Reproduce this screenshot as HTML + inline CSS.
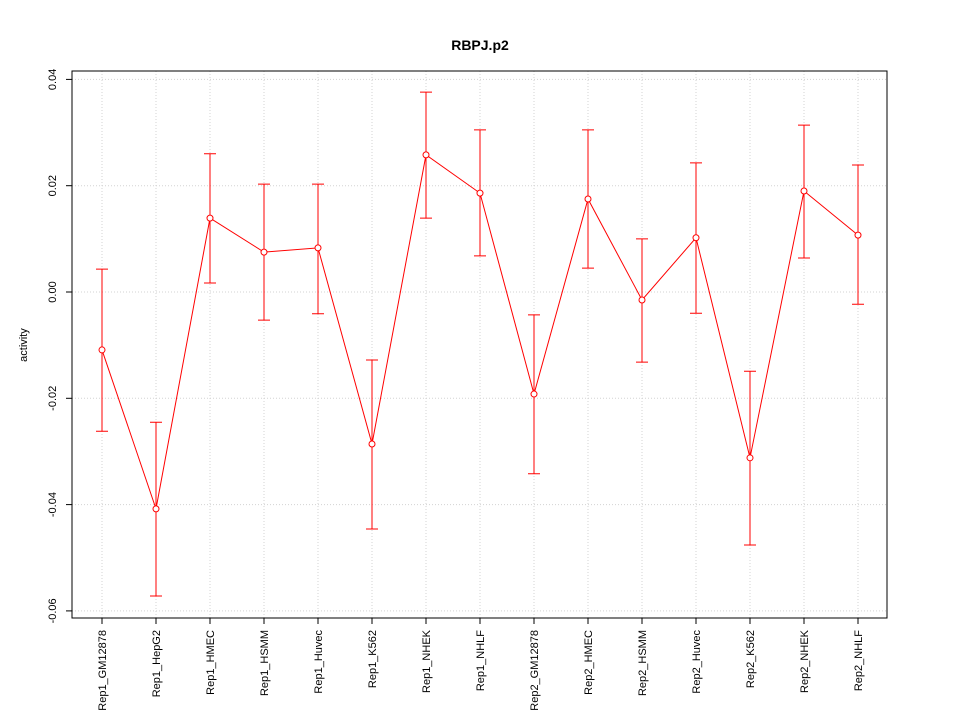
<!DOCTYPE html>
<html><head><meta charset="utf-8"><style>
body{margin:0;background:#fff;}
svg{display:block;font-family:"Liberation Sans",sans-serif;}
</style></head><body>
<svg id="chart" width="960" height="720">
<text x="480" y="50" text-anchor="middle" font-size="14" font-weight="bold">RBPJ.p2</text>
<text transform="translate(27,345) rotate(-90)" text-anchor="middle" font-size="11">activity</text>
<g id="grid"></g>
<g id="yaxis"></g>
<g id="xaxis"></g>
<g id="series"></g>
<rect x="72" y="71" width="815" height="547" fill="none" stroke="#000"/>
</svg>
<script>
const categories=["Rep1_GM12878","Rep1_HepG2","Rep1_HMEC","Rep1_HSMM","Rep1_Huvec","Rep1_K562","Rep1_NHEK","Rep1_NHLF","Rep2_GM12878","Rep2_HMEC","Rep2_HSMM","Rep2_Huvec","Rep2_K562","Rep2_NHEK","Rep2_NHLF"];
const values=[-0.0109,-0.0408,0.0139,0.0075,0.0083,-0.0286,0.0258,0.0186,-0.0192,0.0175,-0.0015,0.0102,-0.0312,0.0190,0.0107];
const upper=[0.0043,-0.0245,0.0260,0.0203,0.0203,-0.0128,0.0376,0.0305,-0.0043,0.0305,0.0100,0.0243,-0.0149,0.0314,0.0239];
const lower=[-0.0262,-0.0572,0.0017,-0.0053,-0.0041,-0.0446,0.0139,0.0068,-0.0342,0.0045,-0.0132,-0.0040,-0.0476,0.0064,-0.0023];
const yTicks=[-0.06,-0.04,-0.02,0.00,0.02,0.04];
const yTickLabels=["-0.06","-0.04","-0.02","0.00","0.02","0.04"];

const NS="http://www.w3.org/2000/svg";
const y=v=>292-v*(106.3/0.02);
const x=i=>102+i*54;
function mk(tag,attrs,parent){const e=document.createElementNS(NS,tag);for(const k in attrs)e.setAttribute(k,attrs[k]);parent.appendChild(e);return e;}
const grid=document.getElementById('grid'),ya=document.getElementById('yaxis'),xa=document.getElementById('xaxis'),ser=document.getElementById('series');
yTicks.forEach((t,i)=>{
  const g=mk('line',{x1:72,x2:887,y1:y(t),y2:y(t),stroke:'#d3d3d3','stroke-dasharray':'1,2'},grid);
  
  
  const tk=mk('line',{x1:66,x2:72,y1:y(t),y2:y(t),stroke:'#000'},ya);
  
  
  const tx=mk('text',{transform:`translate(56,${y(t)}) rotate(-90)`,'text-anchor':'middle','font-size':'11'},ya);
  tx.textContent=yTickLabels[i];
  
  
});
categories.forEach((c,i)=>{
  const g=mk('line',{x1:x(i),x2:x(i),y1:71,y2:618,stroke:'#d3d3d3','stroke-dasharray':'1,2'},grid);
  
  
  const tk=mk('line',{x1:x(i),x2:x(i),y1:618,y2:624,stroke:'#000'},xa);
  
  
  const tx=mk('text',{transform:`translate(${x(i)+4},630) rotate(-90)`,'text-anchor':'end','font-size':'11'},xa);
  tx.textContent=c;
  
  
});
const pl=mk('polyline',{points:values.map((v,i)=>x(i)+','+y(v)).join(' '),fill:'none',stroke:'#ff0000'},ser);


values.forEach((v,i)=>{
  const eb=mk('path',{d:`M${x(i)},${y(upper[i])}V${y(lower[i])}M${x(i)-6},${y(upper[i])}H${x(i)+6}M${x(i)-6},${y(lower[i])}H${x(i)+6}`,stroke:'#ff0000',fill:'none'},ser);
  
  
  const p=mk('circle',{cx:x(i),cy:y(v),r:3,fill:'#fff',stroke:'#ff0000'},ser);
  
  
});
</script>
</body></html>
